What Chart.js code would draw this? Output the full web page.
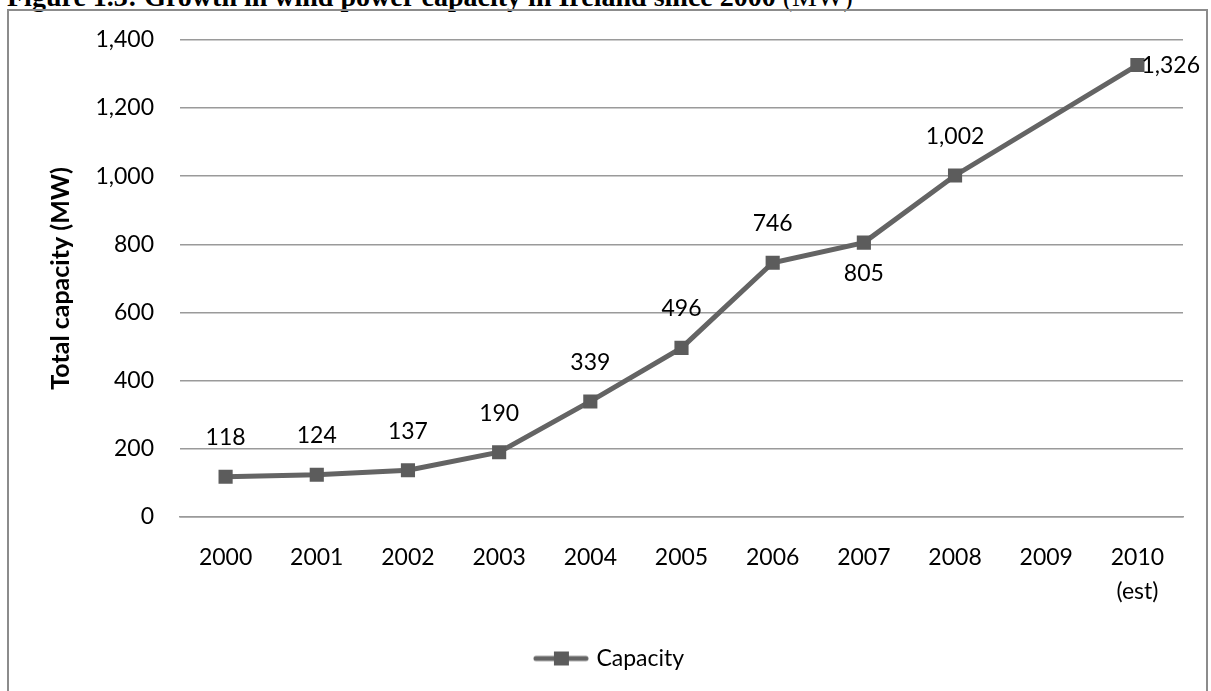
<!DOCTYPE html>
<html>
<head>
<meta charset="utf-8">
<script src="https://cdn.jsdelivr.net/npm/chart.js@4"></script>
<style>
  html, body { margin: 0; padding: 0; background: #fff; overflow: hidden; }
  #wrap { position: relative; width: 1211px; height: 691px; }
  #figTitle {
    position: absolute; left: 7px; top: -17px;
    font-family: "Liberation Serif", "Times New Roman", serif;
    font-size: 28px; line-height: 28px; font-weight: bold; color: #000;
    white-space: nowrap;
  }
  #figTitle span { font-weight: normal; }
  #box {
    position: absolute; left: 7px; top: 9px; width: 1201px; height: 720px;
    border: 2px solid #8c8c8c; box-sizing: border-box;
  }
  #chartHolder { position: absolute; left: 0; top: 0; width: 1211px; height: 691px; }
</style>
</head>
<body>
<div id="wrap">
  <div id="figTitle">Figure 1.3: Growth in wind power capacity in Ireland since 2000 <span>(MW)</span></div>
  <div id="box"></div>
  <div id="chartHolder"><canvas id="windChart" width="1211" height="691"></canvas></div>
</div>
<script>
const years = ["2000", "2001", "2002", "2003", "2004", "2005", "2006", "2007", "2008", "2009", ["2010", "(est)"]];
const capacity = [118, 124, 137, 190, 339, 496, 746, 805, 1002, null, 1326];
const labelPlacement = ["above", "above", "above", "above", "above", "above", "above", "below", "above", null, "right"];
const yTicks = [0, 200, 400, 600, 800, 1000, 1200, 1400];

const lineColor = "#646464";
const fontFamily = "Lato, 'Open Sans', sans-serif";

// legend sample: line with square marker
function legendSample() {
  const c = document.createElement("canvas");
  c.width = 56;
  c.height = 16;
  const g = c.getContext("2d");
  g.strokeStyle = lineColor;
  g.lineWidth = 5;
  g.lineCap = "round";
  g.beginPath();
  g.moveTo(3, 8);
  g.lineTo(53, 8);
  g.stroke();
  g.fillStyle = "#5c5c5c";
  g.fillRect(21, 1, 15, 14);
  return c;
}

const dataLabels = {
  id: "dataLabels",
  afterDatasetsDraw(chart) {
    const ctx = chart.ctx;
    const meta = chart.getDatasetMeta(0);
    ctx.save();
    ctx.font = "23px " + fontFamily;
    ctx.fillStyle = "#000";
    meta.data.forEach((pt, i) => {
      const v = capacity[i];
      if (v === null) return;
      const txt = v.toLocaleString("en-US");
      const pos = labelPlacement[i];
      if (pos === "right") {
        ctx.textAlign = "left";
        ctx.textBaseline = "middle";
        ctx.fillText(txt, pt.x + 4, pt.y + 1);
      } else if (pos === "below") {
        ctx.textAlign = "center";
        ctx.textBaseline = "middle";
        ctx.fillText(txt, pt.x, pt.y + 31);
      } else {
        ctx.textAlign = "center";
        ctx.textBaseline = "middle";
        ctx.fillText(txt, pt.x, pt.y - 39);
      }
    });
    ctx.restore();
  },
};

new Chart(document.getElementById("windChart"), {
  type: "line",
  data: {
    labels: years,
    datasets: [
      {
        label: "Capacity",
        data: capacity,
        borderColor: lineColor,
        backgroundColor: "#5c5c5c",
        borderWidth: 5,
        spanGaps: true,
        tension: 0,
        pointStyle: "rect",
        pointRadius: 10,
        pointBorderWidth: 0,
        pointBackgroundColor: "#5c5c5c",
      },
    ],
  },
  options: {
    responsive: false,
    animation: false,
    layout: {
      padding: { left: 10, right: 0, top: 39, bottom: 11 },
    },
    plugins: {
      title: { display: false },
      tooltip: { enabled: false },
      legend: {
        position: "bottom",
        labels: {
          usePointStyle: true,
          pointStyleWidth: 48,
          padding: 10,
          color: "#000",
          font: { family: fontFamily, size: 23 },
          generateLabels: () => [
            {
              text: "Capacity",
              pointStyle: legendSample(),
              fillStyle: lineColor,
              strokeStyle: lineColor,
              lineWidth: 0,
              hidden: false,
              datasetIndex: 0,
            },
          ],
        },
      },
    },
    scales: {
      x: {
        offset: true,
        grid: { display: false, drawTicks: false },
        border: { display: true, color: "#9a9a9a", width: 1.5 },
        ticks: {
          color: "#000",
          padding: 24,
          maxRotation: 0,
          autoSkip: false,
          font: { family: fontFamily, size: 23, lineHeight: "34px" },
        },
        afterFit: (scale) => {
          scale.height = 120;
        },
      },
      y: {
        min: 0,
        max: 1400,
        grid: { color: "#9a9a9a", lineWidth: 1.5, drawTicks: false },
        border: { display: false },
        afterBuildTicks: (scale) => {
          scale.ticks = yTicks.map((v) => ({ value: v }));
        },
        ticks: {
          color: "#000",
          padding: 26,
          font: { family: fontFamily, size: 23 },
          callback: (v) => v.toLocaleString("en-US"),
        },
        title: {
          display: true,
          text: "Total capacity (MW)",
          color: "#000",
          padding: { top: 36, bottom: 0 },
          font: { family: fontFamily, size: 25, weight: "bold" },
        },
        afterFit: (scale) => {
          scale.width = 170;
        },
      },
      y2: {
        position: "right",
        min: 0,
        max: 1400,
        grid: { display: false, drawTicks: false },
        border: { display: false },
        ticks: { display: false },
        afterFit: (scale) => {
          scale.width = 28;
        },
      },
    },
  },
  plugins: [dataLabels],
});
</script>
</body>
</html>
